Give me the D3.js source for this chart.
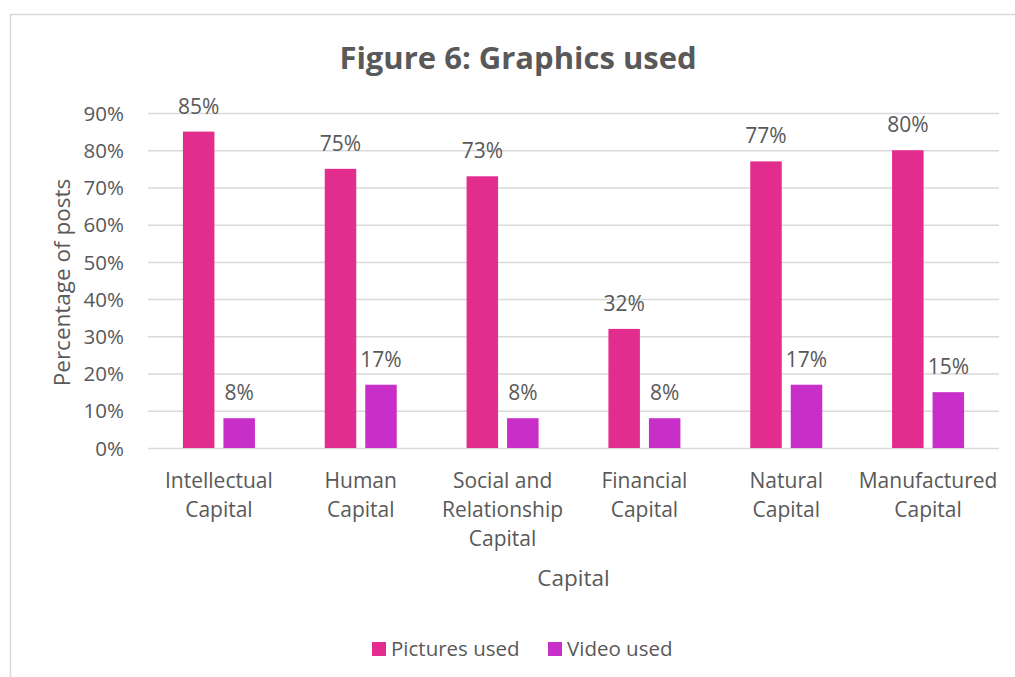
<!DOCTYPE html>
<html>
<head>
<meta charset="utf-8">
<script src="https://cdn.jsdelivr.net/npm/d3@7"></script>
<style>
  html, body { margin: 0; padding: 0; background: #fff; }
  svg { display: block; }
  text { font-family: "Open Sans", "Noto Sans", sans-serif; fill: #595959; }
</style>
</head>
<body>
<svg id="chart" width="1015" height="677"></svg>
<script>
// Share of posts using each kind of graphic, per capital category
const categories = [
  ["Intellectual", "Capital"],
  ["Human", "Capital"],
  ["Social and", "Relationship", "Capital"],
  ["Financial", "Capital"],
  ["Natural", "Capital"],
  ["Manufactured", "Capital"]
];
const seriesNames = ["Pictures used", "Video used"];
const picturesUsed = [85, 75, 73, 32, 77, 80];
const videoUsed = [8, 17, 8, 8, 17, 15];
const yTicks = [0, 10, 20, 30, 40, 50, 60, 70, 80, 90];
const colors = ["#E32D8E", "#C82FC9"];

const svg = d3.select("#chart");
const W = 1015, H = 677;
const margin = { left: 148, right: 16, top: 113, bottom: 229 };
const plotW = W - margin.left - margin.right;
const plotH = H - margin.top - margin.bottom;

// Chart frame (cropped on the right and bottom)
svg.append("rect")
  .attr("x", 10.5).attr("y", 14.5)
  .attr("width", 1010).attr("height", 700)
  .attr("fill", "none").attr("stroke", "#D9D9D9").attr("stroke-width", 1.5);

const g = svg.append("g").attr("transform", `translate(${margin.left},${margin.top})`);

const x0 = d3.scaleBand().domain(d3.range(categories.length)).range([0, plotW]).paddingInner(0).paddingOuter(0);
const y = d3.scaleLinear().domain([0, 90]).range([plotH, 0]);

// Gridlines and y tick labels
const yAxis = d3.axisLeft(y).tickValues(yTicks).tickFormat(d => d + "%").tickSize(-plotW).tickPadding(24);
const ya = g.append("g").call(yAxis);
ya.select(".domain").remove();
ya.selectAll(".tick line").attr("stroke", "#D9D9D9").attr("stroke-width", 1.5);
ya.selectAll(".tick text").attr("font-size", 20.5).attr("fill", "#595959").attr("dy", "0.35em")
  .style("font-family", '"Open Sans", sans-serif');

// Bars
const barW = 31.5, gap = 9;
const offsets = [-(gap / 2 + barW), gap / 2];
const series = [picturesUsed, videoUsed];
series.forEach((vals, s) => {
  const cx = i => x0(i) + x0.bandwidth() / 2;
  g.selectAll(".bar" + s).data(vals).enter().append("rect")
    .attr("x", (d, i) => cx(i) + offsets[s])
    .attr("y", d => y(d))
    .attr("width", barW)
    .attr("height", d => y(0) - y(d))
    .attr("fill", colors[s]);
  g.selectAll(".lab" + s).data(vals).enter().append("text")
    .attr("x", (d, i) => cx(i) + offsets[s] + barW / 2)
    .attr("y", d => y(d) - 18)
    .attr("text-anchor", "middle")
    .attr("font-size", 21)
    .text(d => d + "%");
});

// Category labels (multi-line)
categories.forEach((lines, i) => {
  const t = g.append("text")
    .attr("x", x0(i) + x0.bandwidth() / 2)
    .attr("y", plotH + 40)
    .attr("text-anchor", "middle")
    .attr("font-size", 21);
  lines.forEach((ln, k) => {
    t.append("tspan").attr("x", x0(i) + x0.bandwidth() / 2).attr("dy", k === 0 ? 0 : 29).text(ln);
  });
});

// Title
svg.append("text")
  .attr("x", 518).attr("y", 69)
  .attr("text-anchor", "middle")
  .attr("font-size", 31).attr("font-weight", "bold")
  .text("Figure 6: Graphics used");

// Axis titles
svg.append("text")
  .attr("x", margin.left + plotW / 2).attr("y", 586)
  .attr("text-anchor", "middle").attr("font-size", 22.5)
  .text("Capital");
svg.append("text")
  .attr("transform", `translate(70,${margin.top + plotH / 2 + 2}) rotate(-90)`)
  .attr("text-anchor", "middle").attr("font-size", 22.5)
  .text("Percentage of posts");

// Legend
const legend = svg.append("g");
const legItems = [{ x: 372, tx: 391 }, { x: 548, tx: 567 }];
seriesNames.forEach((name, s) => {
  legend.append("rect").attr("x", legItems[s].x).attr("y", 642).attr("width", 14).attr("height", 14).attr("fill", colors[s]);
  legend.append("text").attr("x", legItems[s].tx).attr("y", 656).attr("font-size", 20.5).text(name);
});
</script>
</body>
</html>
